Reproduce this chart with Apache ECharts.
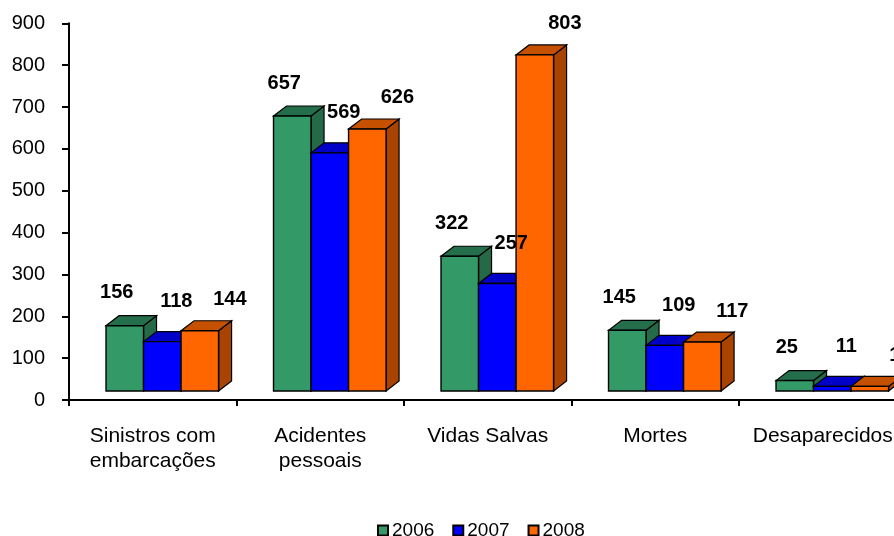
<!DOCTYPE html>
<html>
<head>
<meta charset="utf-8">
<script src="https://cdn.jsdelivr.net/npm/echarts@6/dist/echarts.min.js"></script>
<style>html,body{margin:0;padding:0;background:#fff;overflow:hidden;}#c{width:910px;height:536px;}</style>
</head>
<body>
<div id="c"></div>
<script>
const categories = ['Sinistros com\nembarcações', 'Acidentes\npessoais', 'Vidas Salvas', 'Mortes', 'Desaparecidos'];
const seriesNames = ['2006', '2007', '2008'];
const values2006 = [156, 657, 322, 145, 25];
const values2007 = [118, 569, 257, 109, 11];
const values2008 = [144, 626, 803, 117, 11];
const yTicks = [0, 100, 200, 300, 400, 500, 600, 700, 800, 900];

const allValues = [values2006, values2007, values2008];
const faceColors = [
  { front: '#339966', top: '#256e4b', side: '#246a48' },
  { front: '#0000ff', top: '#0000c8', side: '#0000b0' },
  { front: '#ff6600', top: '#c45000', side: '#a84300' }
];
const labelShift = [[-8, -33], [14, -40], [30, -31]];

function makeRender(si) {
  return function (params, api) {
    const idx = api.value(0);
    const val = api.value(1);
    const base = api.coord([idx, 0]);
    const topPt = api.coord([idx, val]);
    const catW = api.size([1, 0])[0];
    const w = catW * 0.224;
    const x0 = base[0] - catW / 2 + catW * 0.221 + si * w;
    const lift = 9, dx = 13, dy = 10;
    const yb = base[1] - lift;
    const yt = topPt[1] - lift;
    const c = faceColors[si];
    const ls = labelShift[si];
    return {
      type: 'group',
      children: [
        { type: 'polygon', shape: { points: [[x0 + w, yt], [x0 + w + dx, yt - dy], [x0 + w + dx, yb - dy], [x0 + w, yb]] },
          style: { fill: c.side, stroke: '#000', lineWidth: 1.2 } },
        { type: 'polygon', shape: { points: [[x0, yt], [x0 + w, yt], [x0 + w + dx, yt - dy], [x0 + dx, yt - dy]] },
          style: { fill: c.top, stroke: '#000', lineWidth: 1.2 } },
        { type: 'rect', shape: { x: x0, y: yt, width: w, height: yb - yt },
          style: { fill: c.front, stroke: '#000', lineWidth: 1.4 } },
        { type: 'text', z2: 100, style: { text: String(val), x: x0 + w / 2 + ls[0], y: yt + ls[1],
          textAlign: 'center', textVerticalAlign: 'middle', fill: '#000',
          font: 'bold 20px "Liberation Sans", Arial, sans-serif' } }
      ]
    };
  };
}

const chart = echarts.init(document.getElementById('c'), null, { renderer: 'canvas' });
chart.setOption({
  animation: false,
  backgroundColor: '#fff',
  textStyle: { fontFamily: '"Liberation Sans", Arial, sans-serif' },
  grid: { left: 69, top: 23.3, width: 837.5, height: 376.7, containLabel: false },
  legend: {
    data: seriesNames.map(n => ({ name: n, icon: 'rect' })),
    left: 372, top: 516,
    itemWidth: 10, itemHeight: 10, itemGap: 18,
    textStyle: { fontSize: 19, color: '#000', padding: [0, 0, 0, -1] }
  },
  xAxis: {
    type: 'category', data: categories, boundaryGap: true,
    axisLine: { lineStyle: { color: '#000', width: 2 } },
    axisTick: { show: true, length: 6, lineStyle: { color: '#000', width: 2 }, alignWithLabel: false },
    axisLabel: { color: '#000', fontSize: 21, lineHeight: 25, margin: 24, interval: 0 }
  },
  yAxis: {
    type: 'value', min: yTicks[0], max: yTicks[yTicks.length - 1], interval: yTicks[1] - yTicks[0],
    splitLine: { show: false },
    axisLine: { show: true, lineStyle: { color: '#000', width: 2 } },
    axisTick: { show: true, length: 7, lineStyle: { color: '#000', width: 2 } },
    axisLabel: { color: '#000', fontSize: 20, margin: 24 }
  },
  series: seriesNames.map((name, si) => ({
    type: 'custom',
    name: name,
    renderItem: makeRender(si),
    itemStyle: { color: faceColors[si].front, borderColor: '#000', borderWidth: 1.5 },
    encode: { x: 0, y: 1 },
    data: allValues[si].map((v, i) => [i, v]),
    clip: false
  }))
});
</script>
</body>
</html>
